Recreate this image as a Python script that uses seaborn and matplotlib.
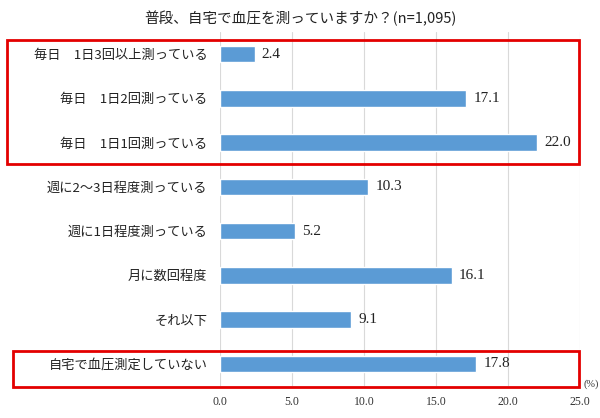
import pandas as pd
import seaborn as sns
import matplotlib.pyplot as plt
from matplotlib.patches import Rectangle

categories = ["毎日　1日3回以上測っている", "毎日　1日2回測っている", "毎日　1日1回測っている",
              "週に2～3日程度測っている", "週に1日程度測っている", "月に数回程度",
              "それ以下", "自宅で血圧測定していない"]
values = [2.4, 17.1, 22.0, 10.3, 5.2, 16.1, 9.1, 17.8]
x_ticks = [0, 5, 10, 15, 20, 25]

df = pd.DataFrame({"category": categories, "value": values})

sns.set_theme(style="white")
plt.rcParams['font.family'] = ['Liberation Serif', 'Noto Sans CJK JP', 'DejaVu Sans']
cjk = ['Noto Sans CJK JP', 'DejaVu Sans']

fig = plt.figure(figsize=(6, 4.18), dpi=100)
ax = fig.add_axes([0.3667, 0.0766, 0.6, 0.847])

sns.barplot(data=df, x="value", y="category", orient="h", color="#5B9BD5",
            saturation=1, width=0.37, ax=ax)

for i, v in enumerate(values):
    ax.text(v + 0.5, i, f"{v:.1f}", va="center", ha="left", fontsize=11, color="#222222")

ax.set_xlim(0, 25)
ax.set_xticks(x_ticks)
ax.set_xticklabels([f"{t:.1f}" for t in x_ticks], fontsize=8.5, color="#333333")
ax.tick_params(axis="y", labelsize=9.5, pad=9, length=0, colors="#222222")
for lab in ax.get_yticklabels():
    lab.set_family(cjk)
ax.tick_params(axis="x", length=0, pad=7)
ax.set_xlabel("")
ax.set_ylabel("")
ax.xaxis.grid(True, color="#D9D9D9", linewidth=0.8)
ax.set_axisbelow(True)
for s in ax.spines.values():
    s.set_visible(False)

fig.text(0.5, 0.957, "普段、自宅で血圧を測っていますか？(n=1,095)", ha="center", va="center",
         fontsize=10.5, color="#222222", family=cjk)
fig.text(0.985, 0.08, "(%)", ha="center", va="center", fontsize=7.5, color="#333333")

# red highlight boxes
W, H = 600, 418
for (x0, y0, x1, y1) in [(7, 40, 579, 164), (13, 351, 579, 387)]:
    fig.patches.append(Rectangle((x0 / W, 1 - y1 / H), (x1 - x0) / W, (y1 - y0) / H,
                                 transform=fig.transFigure, fill=False,
                                 edgecolor="#E30000", linewidth=2))

fig.savefig("out.png", dpi=100)
